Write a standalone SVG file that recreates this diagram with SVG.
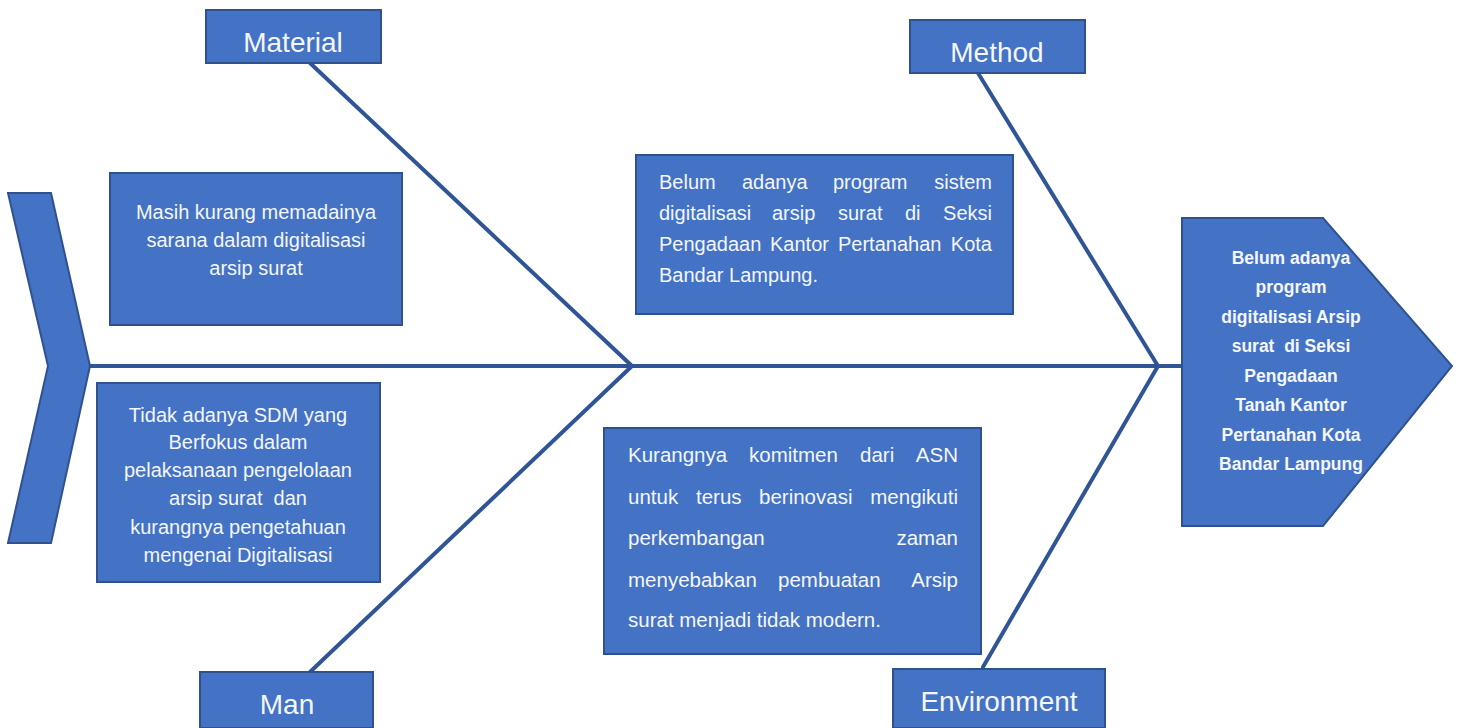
<svg xmlns="http://www.w3.org/2000/svg" width="1459" height="728" viewBox="0 0 1459 728">
<style>
.box{fill:#4472C4;stroke:#2F528F;stroke-width:2}
.bone{stroke:#2F5597;stroke-width:4;fill:none;stroke-linecap:round}
.lbl{font-family:"Liberation Sans",Arial,sans-serif;font-size:28px;fill:#F4F7FC;text-anchor:middle}
.t{font-family:"Liberation Sans",Arial,sans-serif;font-size:20px;fill:#F4F7FC}
.t2{font-family:"Liberation Sans",Arial,sans-serif;font-size:20.5px;fill:#F4F7FC}
.c{text-anchor:middle}
.e{text-anchor:end}
.hd{font-family:"Liberation Sans",Arial,sans-serif;font-size:17.5px;font-weight:bold;fill:#F4F7FC;text-anchor:middle}
</style>
<rect width="1459" height="728" fill="#FFFFFF"/>
<g id="connectors">
<line class="bone" x1="90" y1="366" x2="1182" y2="366"/>
<line class="bone" x1="310" y1="63" x2="632" y2="366"/>
<line class="bone" x1="310" y1="672" x2="632" y2="366"/>
<line class="bone" x1="978" y1="73" x2="1158" y2="366"/>
<line class="bone" x1="983" y1="667" x2="1158" y2="366"/>
</g>
<g id="tail">
<polygon class="box" points="8,193 51,193 90,366 51,543 8,543 48,366"/>
</g>
<g id="head">
<polygon class="box" points="1182,218 1323,218 1452,366 1323,526 1182,526"/>
<text class="hd" x="1291" y="264">Belum adanya</text>
<text class="hd" x="1291" y="293">program</text>
<text class="hd" x="1291" y="323">digitalisasi Arsip</text>
<text class="hd" x="1291" y="352" xml:space="preserve">surat  di Seksi</text>
<text class="hd" x="1291" y="382">Pengadaan</text>
<text class="hd" x="1291" y="411">Tanah Kantor</text>
<text class="hd" x="1291" y="441">Pertanahan Kota</text>
<text class="hd" x="1291" y="470">Bandar Lampung</text>
</g>
<g id="material">
<rect class="box" x="206" y="10" width="175" height="53"/>
<text class="lbl" x="293" y="52">Material</text>
</g>
<g id="method">
<rect class="box" x="910" y="20" width="175" height="53"/>
<text class="lbl" x="997" y="62">Method</text>
</g>
<g id="man">
<rect class="box" x="200" y="672" width="173" height="56"/>
<text class="lbl" x="287" y="714">Man</text>
</g>
<g id="environment">
<rect class="box" x="893" y="669" width="212" height="59"/>
<text class="lbl" x="999" y="711">Environment</text>
</g>
<g id="cause-material">
<rect class="box" x="110" y="173" width="292" height="152"/>
<text class="t c" x="256" y="219">Masih kurang memadainya</text>
<text class="t c" x="256" y="247">sarana dalam digitalisasi</text>
<text class="t c" x="256" y="275">arsip surat</text>
</g>
<g id="cause-man">
<rect class="box" x="97" y="383" width="283" height="199"/>
<text class="t c" x="238" y="422">Tidak adanya SDM yang</text>
<text class="t c" x="238" y="449">Berfokus dalam</text>
<text class="t c" x="238" y="477">pelaksanaan pengelolaan</text>
<text class="t c" x="238" y="505" xml:space="preserve">arsip surat  dan</text>
<text class="t c" x="238" y="534">kurangnya pengetahuan</text>
<text class="t c" x="238" y="562">mengenai Digitalisasi</text>
</g>
<g id="cause-method">
<rect class="box" x="636" y="155" width="377" height="159"/>
<text class="t" x="659" y="189">Belum</text>
<text class="t" x="742" y="189">adanya</text>
<text class="t" x="833" y="189">program</text>
<text class="t e" x="992" y="189">sistem</text>
<text class="t" x="659" y="220">digitalisasi</text>
<text class="t" x="772" y="220">arsip</text>
<text class="t" x="838" y="220">surat</text>
<text class="t" x="905" y="220">di</text>
<text class="t e" x="992" y="220">Seksi</text>
<text class="t" x="659" y="251">Pengadaan</text>
<text class="t" x="770" y="251">Kantor</text>
<text class="t" x="838" y="251">Pertanahan</text>
<text class="t e" x="992" y="251">Kota</text>
<text class="t" x="659" y="282">Bandar Lampung.</text>
</g>
<g id="cause-environment">
<rect class="box" x="604" y="428" width="377" height="226"/>
<text class="t2" x="628" y="462">Kurangnya</text>
<text class="t2" x="749" y="462">komitmen</text>
<text class="t2" x="860" y="462">dari</text>
<text class="t2 e" x="958" y="462">ASN</text>
<text class="t2" x="628" y="504">untuk</text>
<text class="t2" x="696" y="504">terus</text>
<text class="t2" x="759" y="504">berinovasi</text>
<text class="t2 e" x="958" y="504">mengikuti</text>
<text class="t2" x="628" y="545">perkembangan</text>
<text class="t2 e" x="958" y="545">zaman</text>
<text class="t2" x="628" y="587">menyebabkan</text>
<text class="t2" x="778" y="587">pembuatan</text>
<text class="t2 e" x="958" y="587">Arsip</text>
<text class="t2" x="628" y="627">surat menjadi tidak modern.</text>
</g>
</svg>
